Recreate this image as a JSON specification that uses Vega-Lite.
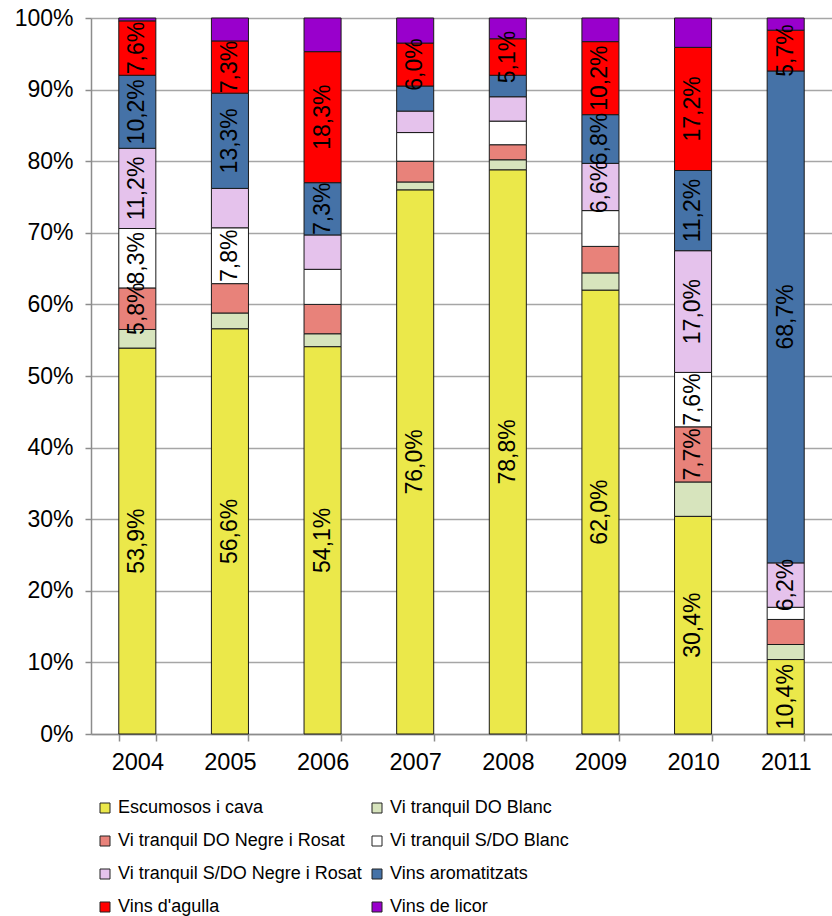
{
  "$schema": "https://vega.github.io/schema/vega-lite/v6.json",
  "width": 741,
  "height": 716,
  "autosize": {"type": "none"},
  "padding": {"left": 91, "top": 18, "right": 0, "bottom": 182},
  "background": "white",
  "datasets": {
    "cats": [
      {"cat": "Escumosos i cava", "k": 1},
      {"cat": "Vi tranquil DO Blanc", "k": 2},
      {"cat": "Vi tranquil DO Negre i Rosat", "k": 3},
      {"cat": "Vi tranquil S/DO Blanc", "k": 4},
      {"cat": "Vi tranquil S/DO Negre i Rosat", "k": 5},
      {"cat": "Vins aromatitzats", "k": 6},
      {"cat": "Vins d'agulla", "k": 7},
      {"cat": "Vins de licor", "k": 8}
    ]
  },
  "data": {
    "values": [
      {"year": "2004", "cat": "Escumosos i cava", "val": 53.9, "lab": "53,9%"},
      {"year": "2004", "cat": "Vi tranquil DO Blanc", "val": 2.6, "lab": ""},
      {"year": "2004", "cat": "Vi tranquil DO Negre i Rosat", "val": 5.8, "lab": "5,8%"},
      {"year": "2004", "cat": "Vi tranquil S/DO Blanc", "val": 8.3, "lab": "8,3%"},
      {"year": "2004", "cat": "Vi tranquil S/DO Negre i Rosat", "val": 11.2, "lab": "11,2%"},
      {"year": "2004", "cat": "Vins aromatitzats", "val": 10.2, "lab": "10,2%"},
      {"year": "2004", "cat": "Vins d'agulla", "val": 7.6, "lab": "7,6%"},
      {"year": "2004", "cat": "Vins de licor", "val": 0.4, "lab": ""},
      {"year": "2005", "cat": "Escumosos i cava", "val": 56.6, "lab": "56,6%"},
      {"year": "2005", "cat": "Vi tranquil DO Blanc", "val": 2.2, "lab": ""},
      {"year": "2005", "cat": "Vi tranquil DO Negre i Rosat", "val": 4.1, "lab": ""},
      {"year": "2005", "cat": "Vi tranquil S/DO Blanc", "val": 7.8, "lab": "7,8%"},
      {"year": "2005", "cat": "Vi tranquil S/DO Negre i Rosat", "val": 5.5, "lab": ""},
      {"year": "2005", "cat": "Vins aromatitzats", "val": 13.3, "lab": "13,3%"},
      {"year": "2005", "cat": "Vins d'agulla", "val": 7.3, "lab": "7,3%"},
      {"year": "2005", "cat": "Vins de licor", "val": 3.2, "lab": ""},
      {"year": "2006", "cat": "Escumosos i cava", "val": 54.1, "lab": "54,1%"},
      {"year": "2006", "cat": "Vi tranquil DO Blanc", "val": 1.8, "lab": ""},
      {"year": "2006", "cat": "Vi tranquil DO Negre i Rosat", "val": 4.1, "lab": ""},
      {"year": "2006", "cat": "Vi tranquil S/DO Blanc", "val": 4.9, "lab": ""},
      {"year": "2006", "cat": "Vi tranquil S/DO Negre i Rosat", "val": 4.8, "lab": ""},
      {"year": "2006", "cat": "Vins aromatitzats", "val": 7.3, "lab": "7,3%"},
      {"year": "2006", "cat": "Vins d'agulla", "val": 18.3, "lab": "18,3%"},
      {"year": "2006", "cat": "Vins de licor", "val": 4.7, "lab": ""},
      {"year": "2007", "cat": "Escumosos i cava", "val": 76.0, "lab": "76,0%"},
      {"year": "2007", "cat": "Vi tranquil DO Blanc", "val": 1.1, "lab": ""},
      {"year": "2007", "cat": "Vi tranquil DO Negre i Rosat", "val": 2.9, "lab": ""},
      {"year": "2007", "cat": "Vi tranquil S/DO Blanc", "val": 4.0, "lab": ""},
      {"year": "2007", "cat": "Vi tranquil S/DO Negre i Rosat", "val": 3.0, "lab": ""},
      {"year": "2007", "cat": "Vins aromatitzats", "val": 3.5, "lab": ""},
      {"year": "2007", "cat": "Vins d'agulla", "val": 6.0, "lab": "6,0%"},
      {"year": "2007", "cat": "Vins de licor", "val": 3.5, "lab": ""},
      {"year": "2008", "cat": "Escumosos i cava", "val": 78.8, "lab": "78,8%"},
      {"year": "2008", "cat": "Vi tranquil DO Blanc", "val": 1.4, "lab": ""},
      {"year": "2008", "cat": "Vi tranquil DO Negre i Rosat", "val": 2.1, "lab": ""},
      {"year": "2008", "cat": "Vi tranquil S/DO Blanc", "val": 3.3, "lab": ""},
      {"year": "2008", "cat": "Vi tranquil S/DO Negre i Rosat", "val": 3.4, "lab": ""},
      {"year": "2008", "cat": "Vins aromatitzats", "val": 3.0, "lab": ""},
      {"year": "2008", "cat": "Vins d'agulla", "val": 5.1, "lab": "5,1%"},
      {"year": "2008", "cat": "Vins de licor", "val": 2.9, "lab": ""},
      {"year": "2009", "cat": "Escumosos i cava", "val": 62.0, "lab": "62,0%"},
      {"year": "2009", "cat": "Vi tranquil DO Blanc", "val": 2.4, "lab": ""},
      {"year": "2009", "cat": "Vi tranquil DO Negre i Rosat", "val": 3.7, "lab": ""},
      {"year": "2009", "cat": "Vi tranquil S/DO Blanc", "val": 5.0, "lab": ""},
      {"year": "2009", "cat": "Vi tranquil S/DO Negre i Rosat", "val": 6.6, "lab": "6,6%"},
      {"year": "2009", "cat": "Vins aromatitzats", "val": 6.8, "lab": "6,8%"},
      {"year": "2009", "cat": "Vins d'agulla", "val": 10.2, "lab": "10,2%"},
      {"year": "2009", "cat": "Vins de licor", "val": 3.3, "lab": ""},
      {"year": "2010", "cat": "Escumosos i cava", "val": 30.4, "lab": "30,4%"},
      {"year": "2010", "cat": "Vi tranquil DO Blanc", "val": 4.8, "lab": ""},
      {"year": "2010", "cat": "Vi tranquil DO Negre i Rosat", "val": 7.7, "lab": "7,7%"},
      {"year": "2010", "cat": "Vi tranquil S/DO Blanc", "val": 7.6, "lab": "7,6%"},
      {"year": "2010", "cat": "Vi tranquil S/DO Negre i Rosat", "val": 17.0, "lab": "17,0%"},
      {"year": "2010", "cat": "Vins aromatitzats", "val": 11.2, "lab": "11,2%"},
      {"year": "2010", "cat": "Vins d'agulla", "val": 17.2, "lab": "17,2%"},
      {"year": "2010", "cat": "Vins de licor", "val": 4.1, "lab": ""},
      {"year": "2011", "cat": "Escumosos i cava", "val": 10.4, "lab": "10,4%"},
      {"year": "2011", "cat": "Vi tranquil DO Blanc", "val": 2.1, "lab": ""},
      {"year": "2011", "cat": "Vi tranquil DO Negre i Rosat", "val": 3.5, "lab": ""},
      {"year": "2011", "cat": "Vi tranquil S/DO Blanc", "val": 1.7, "lab": ""},
      {"year": "2011", "cat": "Vi tranquil S/DO Negre i Rosat", "val": 6.2, "lab": "6,2%"},
      {"year": "2011", "cat": "Vins aromatitzats", "val": 68.7, "lab": "68,7%"},
      {"year": "2011", "cat": "Vins d'agulla", "val": 5.7, "lab": "5,7%"},
      {"year": "2011", "cat": "Vins de licor", "val": 1.7, "lab": ""}
    ]
  },
  "transform": [
    {"lookup": "cat", "from": {"data": {"name": "cats"}, "key": "cat", "fields": ["k"]}},
    {"stack": "val", "groupby": ["year"], "sort": [{"field": "k", "order": "ascending"}], "as": ["v0", "v1"]},
    {"calculate": "(datum.v0 + datum.v1) / 2", "as": "mid"}
  ],
  "encoding": {
    "x": {
      "field": "year",
      "type": "ordinal",
      "scale": {"paddingInner": 0.6, "paddingOuter": 0.3},
      "axis": {
        "title": null,
        "labelAngle": 0,
        "tickBand": "extent",
        "labelFontSize": 23.5,
        "labelPadding": 9,
        "tickSize": 7,
        "domainWidth": 1.5
      }
    }
  },
  "layer": [
    {
      "mark": {"type": "bar", "stroke": "#1a1a1a", "strokeWidth": 1},
      "encoding": {
        "y": {
          "field": "v0",
          "type": "quantitative",
          "scale": {"domain": [0, 100], "nice": false},
          "axis": {
            "title": null,
            "values": [0, 10, 20, 30, 40, 50, 60, 70, 80, 90, 100],
            "labelExpr": "datum.value + '%'",
            "grid": true,
            "labelFontSize": 23,
            "labelPadding": 12,
            "tickSize": 6,
            "domainWidth": 1.5
          }
        },
        "y2": {"field": "v1"},
        "color": {
          "field": "cat",
          "type": "nominal",
          "scale": {
            "domain": ["Escumosos i cava", "Vi tranquil DO Negre i Rosat", "Vi tranquil S/DO Negre i Rosat", "Vins d'agulla", "Vi tranquil DO Blanc", "Vi tranquil S/DO Blanc", "Vins aromatitzats", "Vins de licor"],
            "range": ["#EBE84A", "#E8827A", "#E5C2EC", "#FF0000", "#D7E4BD", "#FFFFFF", "#4572A7", "#9900CC"]
          },
          "legend": {
            "title": null,
            "orient": "none",
            "legendX": 5,
            "legendY": 781,
            "columns": 2,
            "columnPadding": 6,
            "rowPadding": 15,
            "symbolType": "square",
            "symbolSize": 100,
            "symbolStrokeColor": "#222222",
            "symbolStrokeWidth": 1,
            "labelFont": "Liberation Sans",
            "labelFontSize": 18,
            "labelOffset": 4,
            "labelColor": "black",
            "labelLimit": 400,
            "padding": 0
          }
        }
      }
    },
    {
      "mark": {"type": "text", "angle": 270, "fontSize": 23, "font": "Liberation Sans", "color": "black", "baseline": "middle", "align": "center"},
      "encoding": {
        "y": {"field": "mid", "type": "quantitative"},
        "text": {"field": "lab"}
      }
    }
  ],
  "config": {
    "view": {"stroke": null},
    "font": "Liberation Sans",
    "axis": {
      "labelFont": "Liberation Sans",
      "labelColor": "black",
      "domainColor": "#8C8C8C",
      "tickColor": "#8C8C8C",
      "gridColor": "#A6A6A6",
      "gridWidth": 1.5,
      "tickWidth": 1.5
    }
  }
}
